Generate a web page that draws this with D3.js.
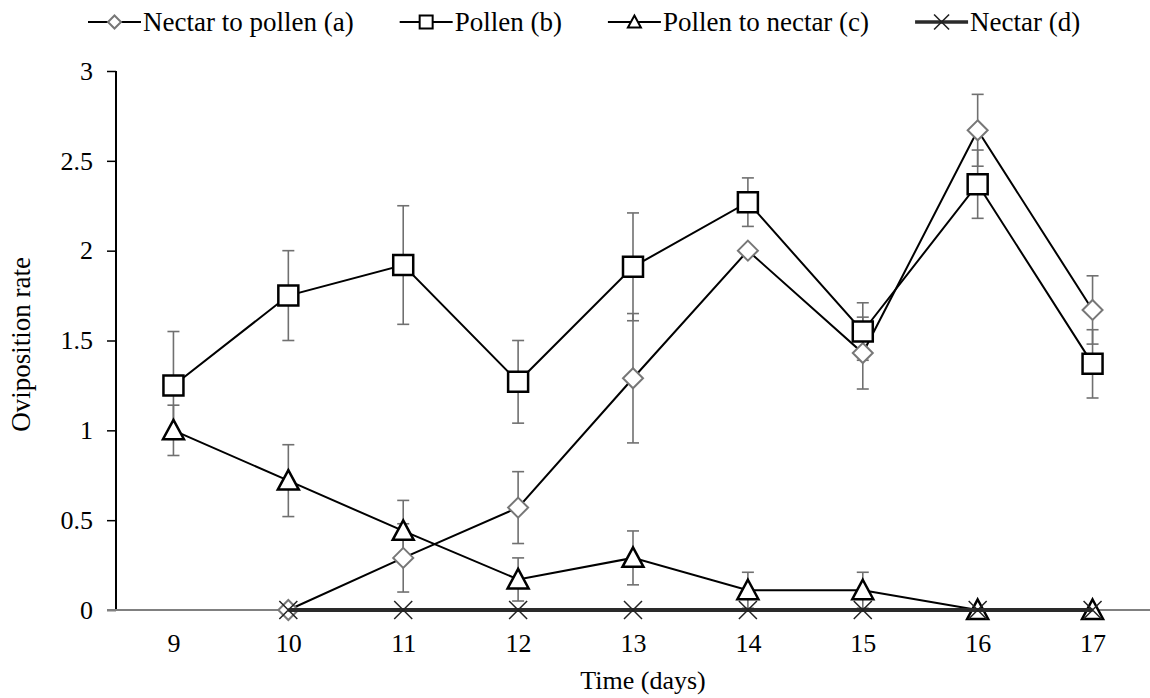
<!DOCTYPE html>
<html><head><meta charset="utf-8">
<script src="https://cdn.jsdelivr.net/npm/d3@7"></script>
<style>
html,body{margin:0;padding:0;background:#fff;}
</style></head>
<body><svg id="chart" width="1150" height="698"></svg>
<script>
const days = [9, 10, 11, 12, 13, 14, 15, 16, 17];
const nectarToPollen    = [null, 0, 0.29, 0.57, 1.29, 2.00, 1.43, 2.67, 1.67];
const nectarToPollenErr = [null, 0, 0.19, 0.20, 0.36, 0, 0.20, 0.20, 0.19];
const pollen            = [1.25, 1.75, 1.92, 1.27, 1.91, 2.27, 1.55, 2.37, 1.37];
const pollenErr         = [0.30, 0.25, 0.33, 0.23, 0.30, 0.135, 0.16, 0.19, 0.19];
const pollenToNectar    = [1.00, 0.72, 0.44, 0.17, 0.29, 0.11, 0.11, 0, 0];
const pollenToNectarErr = [0.14, 0.20, 0.17, 0.12, 0.15, 0.10, 0.10, 0, 0];
const nectar            = [null, 0, 0, 0, 0, 0, 0, 0, 0];
const yTicks = [0, 0.5, 1, 1.5, 2, 2.5, 3];
const seriesNames = ["Nectar to pollen (a)", "Pollen (b)", "Pollen to nectar (c)", "Nectar (d)"];
const xTitle = "Time (days)";
const yTitle = "Oviposition rate";

(function () {
const FONT = "'Liberation Serif', 'Times New Roman', Tinos, 'Nimbus Roman', FreeSerif, 'DejaVu Serif', serif";
const svg = d3.select("#chart");
const pl = 116, pr = 1150, pt = 71, pb = 610;
const x = d3.scalePoint().domain(days).range([pl, pr]).padding(0.5);
const y = d3.scaleLinear().domain([0, 3]).range([pb, pt]);

const series = [
  {name: seriesNames[0], vals: nectarToPollen, err: nectarToPollenErr, marker: "diamond", stroke: "#777", sw: 2, line: "#000", lw: 2},
  {name: seriesNames[1], vals: pollen, err: pollenErr, marker: "square", stroke: "#000", sw: 2.5, line: "#000", lw: 2},
  {name: seriesNames[2], vals: pollenToNectar, err: pollenToNectarErr, marker: "triangle", stroke: "#000", sw: 2.5, line: "#000", lw: 2},
  {name: seriesNames[3], vals: nectar, err: null, marker: "cross", stroke: "#222", sw: 1.5, line: "#2a2a2a", lw: 4}
];

// Y axis
const yAxis = d3.axisLeft(y).tickValues(yTicks).tickSize(9).tickPadding(14).tickFormat(d => String(d));
const gy = svg.append("g").attr("transform", `translate(${pl},0)`).call(yAxis);
gy.attr("font-family", FONT).attr("font-size", 26);
gy.select(".domain").remove();
gy.selectAll(".tick line").attr("stroke", "#000").attr("stroke-width", 1.5);
gy.selectAll(".tick text").attr("fill", "#000");
svg.append("line").attr("x1", pl).attr("x2", pl).attr("y1", pt).attr("y2", pb)
  .attr("stroke", "#000").attr("stroke-width", 2);

// X axis
const xAxis = d3.axisBottom(x).tickSize(0).tickPadding(24);
const gx = svg.append("g").attr("transform", `translate(0,${pb})`).call(xAxis);
gx.attr("font-family", FONT).attr("font-size", 26);
gx.select(".domain").remove();
gx.selectAll(".tick text").attr("fill", "#000");
svg.append("line").attr("x1", pl - 9).attr("x2", pr).attr("y1", pb).attr("y2", pb)
  .attr("stroke", "#808080").attr("stroke-width", 2);

// titles
svg.append("text").attr("x", (pl + pr) / 2 + 10).attr("y", 689).attr("text-anchor", "middle")
  .attr("font-family", FONT).attr("font-size", 26).text(xTitle);
svg.append("text").attr("transform", `translate(30,${(pt + pb) / 2 + 4}) rotate(-90)`)
  .attr("text-anchor", "middle").attr("font-family", FONT).attr("font-size", 27).text(yTitle);

// error bars
const eb = svg.append("g");
series.forEach(s => {
  if (!s.err) return;
  days.forEach((d, i) => {
    const v = s.vals[i], e = s.err[i];
    if (v == null || !e) return;
    const cx = x(d);
    eb.append("line").attr("x1", cx).attr("x2", cx).attr("y1", y(v + e)).attr("y2", y(Math.max(0, v - e)))
      .attr("stroke", "#707070").attr("stroke-width", 1.6);
    const capVals = [v + e];
    if (v - e >= 0) capVals.push(v - e);
    capVals.forEach(cv => {
      eb.append("line").attr("x1", cx - 6).attr("x2", cx + 6).attr("y1", y(cv)).attr("y2", y(cv))
        .attr("stroke", "#707070").attr("stroke-width", 1.6);
    });
  });
});

function markerPath(type, size) {
  const h = size / 2;
  if (type === "diamond") return `M0,${-h}L${h},0L0,${h}L${-h},0Z`;
  if (type === "square") return `M${-h},${-h}H${h}V${h}H${-h}Z`;
  if (type === "triangle") return `M0,${-h}L${h},${h * 0.85}L${-h},${h * 0.85}Z`;
  if (type === "cross") return `M${-h},${-h}L${h},${h}M${h},${-h}L${-h},${h}`;
}
const sizes = {diamond: 20, square: 20, triangle: 21, cross: 18};

const line = d3.line().defined(d => d.v != null).x(d => x(d.d)).y(d => y(d.v));
series.forEach(s => {
  const pts = days.map((d, i) => ({d, v: s.vals[i]}));
  const g = svg.append("g");
  g.append("path").attr("d", line(pts)).attr("fill", "none").attr("stroke", s.line)
    .attr("stroke-width", s.lw).attr("stroke-linejoin", "miter");
  g.selectAll("path.m").data(pts.filter(p => p.v != null)).enter().append("path")
    .attr("class", "m")
    .attr("transform", p => `translate(${x(p.d)},${y(p.v)})`)
    .attr("d", markerPath(s.marker, sizes[s.marker]))
    .attr("fill", s.marker === "cross" ? "none" : "#fff")
    .attr("stroke", s.stroke).attr("stroke-width", s.sw);
});

// legend
const lg = svg.append("g");
let lx = 88;
const ly = 22;
series.forEach(s => {
  lg.append("line").attr("x1", lx).attr("x2", lx + 53).attr("y1", ly).attr("y2", ly)
    .attr("stroke", s.line).attr("stroke-width", s.lw === 4 ? 3.5 : 2);
  lg.append("path").attr("transform", `translate(${lx + 26.5},${ly})`)
    .attr("d", markerPath(s.marker, s.marker === "cross" ? 15 : 13))
    .attr("fill", s.marker === "cross" ? "none" : "#fff")
    .attr("stroke", s.stroke).attr("stroke-width", s.marker === "cross" ? 1.6 : 2);
  const t = lg.append("text").attr("x", lx + 55).attr("y", ly + 9)
    .attr("font-family", FONT).attr("font-size", 27).text(s.name);
  lx = lx + 55 + t.node().getComputedTextLength() + 46;
});
})();
</script></body></html>
